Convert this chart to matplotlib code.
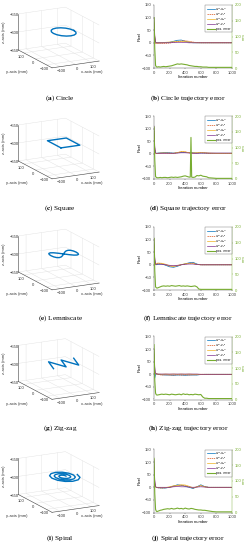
import numpy as np
import matplotlib
matplotlib.use("Agg")
import matplotlib.pyplot as plt

plt.rcParams['font.family'] = ['Liberation Sans', 'DejaVu Sans']
plt.rcParams['mathtext.fontset'] = 'stix'

BLUE = '#0072BD'
ORANGE = '#D95319'
YELLOW = '#EDB120'
PURPLE = '#7E2F8E'
GREEN = '#77AC30'

# --- trajectories (mm), relative to the path centre ---
circle_x = [65, 60, 46, 25, 0, -25, -46, -60, -65, -60, -46, -25, 0, 25, 46, 60, 65]
circle_y = [0, 25, 46, 60, 65, 60, 46, 25, 0, -25, -46, -60, -65, -60, -46, -25, 0]
square_x = [-60, 60, 60, -60, -60]
square_y = [-60, -60, 60, 60, -60]
lemni_x = [0, 20.7, 40, 56.6, 69.3, 77.3, 80, 77.3, 69.3, 56.6, 40, 20.7, 0,
           -20.7, -40, -56.6, -69.3, -77.3, -80, -77.3, -69.3, -56.6, -40, -20.7, 0]
lemni_y = [0, 20, 34.6, 40, 34.6, 20, 0, -20, -34.6, -40, -34.6, -20, 0,
           20, 34.6, 40, 34.6, 20, 0, -20, -34.6, -40, -34.6, -20, 0]
zigzag_x = [-100, -60, -20, 20, 60, 100]
zigzag_y = [-50, 50, -50, 50, -50, 50]
spiral_x = [15, 14.7, 9.5, 0, -11.5, -21.7, -27, -25.1, -15.5, 0, 17.5, 32.0, 39,
            35.5, 21.5, 0, -23.5, -42.4, -51, -45.9, -27.5, 0, 29.5, 52.8, 63,
            56.3, 33.5, 0, -35.5, -63.2, -75, -66.7, -39.5, 0, 41.5, 73.6, 87]
spiral_y = [0, 8.5, 16.5, 21, 19.9, 12.5, 0, -14.5, -26.8, -33, -30.3, -18.5, 0,
            20.5, 37.2, 45, 40.7, 24.5, 0, -26.5, -47.6, -57, -51.1, -30.5, 0,
            32.5, 58.0, 69, 61.5, 36.5, 0, -38.5, -68.4, -81, -71.9, -42.5, 0]
path_centre = (60, 40, -595)

# --- error curves ---
iters_px = [0, 10, 20, 30, 50, 100, 150, 200, 250, 300, 350, 400, 450, 500,
            550, 600, 650, 700, 800, 900, 1000]
iters_pos = [0, 10, 20, 30, 40, 60, 80, 100, 125, 150, 175, 200, 225, 250, 275,
             300, 325, 350, 375, 400, 425, 450, 475, 500, 525, 550, 575, 600,
             625, 650, 675, 700, 750, 800, 850, 900, 950, 1000]
iters_pos_sq = [0, 10, 20, 30, 40, 60, 80, 100, 125, 150, 175, 200, 225, 250, 275,
                300, 325, 350, 375, 400, 425, 450, 465, 474, 483, 500, 525, 550,
                575, 600, 625, 650, 675, 700, 750, 800, 850, 900, 950, 1000]

circle_u1 = [60, 20, 2, 0, 0, 0, 1, 2, 6, 10, 11, 6, 2, 0, 0, 0, 0, 0, 0, 0, 0]
circle_v1 = [40, 10, -2, -3, -3, -3, -2, -1, 2, 5, 7, 8, 6, 3, 1, 0, 0, 0, 0, 0, 0]
circle_u2 = [80, 25, 2, 0, 0, 1, 2, 3, 4, 5, 6, 5, 3, 1, 0, 0, 0, 0, 0, 0, 0]
circle_v2 = [100, 30, 3, 0, 0, 0, 0, 0, 1, 2, 2, 1, 0, 0, 0, 0, 0, 0, 0, 0, 0]
circle_pos = [160, 60, 8, 4, 3, 4, 3, 4, 5, 4, 5, 6, 7, 9, 11, 13, 12, 13, 12, 11,
              10, 8, 7, 6, 5, 5, 4, 4, 3, 3, 3, 2, 2, 2, 2, 2, 2, 2]

square_u1 = [50, 15, 3, 2, 3, 4, 5, 4, 3, 4, 5, 6, 5, 4, 3, 3, 3, 2, 2, 2, 2]
square_v1 = [90, 20, 2, 1, 2, 3, 3, 3, 2, 4, 8, 7, 4, 3, 3, 4, 3, 2, 1, 1, 1]
square_u2 = [70, 15, 2, 1, 2, 3, 3, 2, 2, 5, 9, 8, 4, 3, 4, 5, 4, 3, 2, 2, 2]
square_v2 = [110, 30, 4, 2, 2, 2, 2, 2, 2, 3, 4, 4, 3, 2, 2, 3, 3, 3, 3, 3, 3]
square_pos = [165, 60, 8, 5, 4, 4, 5, 4, 5, 5, 4, 5, 6, 5, 6, 5, 6, 7, 9, 10,
              8, 6, 6, 132, 6, 5, 6, 11, 10, 12, 9, 8, 7, 4, 3, 2, 2, 2, 2, 2]

lemni_u1 = [60, 15, 2, 0, 2, 3, -2, -8, -10, -6, 0, 4, 8, 10, 3, 0, 0, 0, 0, 0, 0]
lemni_v1 = [50, 10, 0, 3, 5, 4, 0, -5, -6, -4, 0, 3, 6, 7, 2, 0, 0, 0, 0, 0, 0]
lemni_u2 = [80, 20, 2, 5, 7, 6, 2, -4, -6, -3, 1, 4, 5, 5, 1, 0, 0, 0, 0, 0, 0]
lemni_v2 = [105, 30, 3, 2, 3, 2, 0, -2, -3, -2, 0, 2, 3, 3, 1, 0, 0, 0, 0, 0, 0]
lemni_pos = [164, 60, 10, 7, 6, 8, 10, 12, 13, 12, 13, 12, 14, 13, 12, 13, 14, 12,
             13, 12, 13, 12, 11, 12, 13, 10, 3, 2, 2, 2, 2, 2, 2, 2, 2, 2, 2, 2]

zigzag_u1 = [60, -15, 0, 2, 0, -2, -3, -3, -4, -3, -3, -4, -3, -3, -3, -1, 0, 0, 0, 0, 0]
zigzag_v1 = [40, 5, 2, 1, -1, -3, -2, -3, -3, -2, -3, -2, -3, -2, -2, 0, 0, 0, 0, 0, 0]
zigzag_u2 = [80, 10, 3, 2, 1, 0, 1, 0, 1, 0, 1, 0, 1, 0, 0, 0, 0, 0, 0, 0, 0]
zigzag_v2 = [100, 30, 4, 2, 1, 1, 1, 1, 1, 1, 1, 1, 1, 1, 1, 0, 0, 0, 0, 0, 0]
zigzag_pos = [174, 60, 20, 15, 14, 15, 16, 17, 16, 17, 16, 15, 17, 16, 15, 16, 17,
              15, 18, 16, 17, 15, 16, 15, 17, 16, 15, 16, 8, 4, 4, 3, 3, 3, 3, 3, 3, 3]

spiral_u1 = [60, 15, 2, 0, -2, -3, -3, 0, 5, 10, 8, 4, 0, -5, 2, 10, 3, 0, 0, 0, 0]
spiral_v1 = [40, 10, 0, -1, -2, -3, -2, 0, 3, 6, 8, 6, 2, -3, 1, 6, 2, 0, 0, 0, 0]
spiral_u2 = [80, 20, 2, 0, -1, -2, -1, 2, 6, 8, 10, 9, 4, -2, 2, 7, 2, 0, 0, 0, 0]
spiral_v2 = [110, 30, 3, 0, 0, 0, 0, 0, 2, 3, 2, 2, 1, 0, 1, 2, 1, 0, 0, 0, 0]
spiral_pos = [172, 60, 10, 4, 3, 5, 7, 8, 10, 11, 12, 11, 13, 11, 12, 14, 12, 13,
              11, 14, 12, 11, 13, 12, 10, 9, 8, 8, 7, 7, 6, 5, 3, 2, 2, 2, 2, 2]

letters = ['a', 'b', 'c', 'd', 'e', 'f', 'g', 'h', 'i', 'j']
names = ['Circle', 'Square', 'Lemniscate', 'Zig-zag', 'Spiral']
legend_labels = ['u\u2081\u1d50-u\u2081\u1d48', 'v\u2081\u1d50-v\u2081\u1d48',
                 'u\u2082\u1d50-u\u2082\u1d48', 'v\u2082\u1d50-v\u2082\u1d48', 'pos. error']

rows = [
    (circle_x, circle_y, circle_u1, circle_v1, circle_u2, circle_v2, iters_pos, circle_pos),
    (square_x, square_y, square_u1, square_v1, square_u2, square_v2, iters_pos_sq, square_pos),
    (lemni_x, lemni_y, lemni_u1, lemni_v1, lemni_u2, lemni_v2, iters_pos, lemni_pos),
    (zigzag_x, zigzag_y, zigzag_u1, zigzag_v1, zigzag_u2, zigzag_v2, iters_pos, zigzag_pos),
    (spiral_x, spiral_y, spiral_u1, spiral_v1, spiral_u2, spiral_v2, iters_pos, spiral_pos),
]

W, H = 249, 550
fig = plt.figure(figsize=(W / 100, H / 100), dpi=100)

XL, YL, ZL = (-150, 150), (-150, 150), (-650, -550)
# where the 3D box corners sit in each row (px, top-left origin):
# front-bottom, right-bottom, left-bottom, left-top
box_target = np.array([[51.7, 67.7], [99.3, 61.0], [18.3, 50.0], [18.3, 14.0]])
corner_x = [XL[0], XL[1], XL[0], XL[0]]
corner_y = [YL[0], YL[0], YL[1], YL[1]]
corner_z = [ZL[0], ZL[0], ZL[0], ZL[1]]
row_shift = [0, 1, 2, 1.5, 4.5]


def box(x0, y0, w, h):
    # pixel box (top-left origin) -> figure fraction
    return [x0 / W, 1 - (y0 + h) / H, w / W, h / H]


def proj_px(ax, xs, ys, zs):
    M = ax.get_proj()
    v = M @ np.vstack([xs, ys, zs, np.ones(len(xs))])
    p = ax.transData.transform(np.column_stack([v[0] / v[3], v[1] / v[3]]))
    return np.column_stack([p[:, 0], H - p[:, 1]])


SZ = 110
for i, (tx, ty, u1, v1, u2, v2, it_pos, pos) in enumerate(rows):
    off = 110 * i
    sh = row_shift[i]
    tgt = box_target + [0, off + sh]

    # 3D trajectory
    x0, y0 = 5.0, off - 15.0
    ax = fig.add_axes(box(x0, y0, SZ, SZ), projection='3d')
    ax.plot(np.add(tx, path_centre[0]), np.add(ty, path_centre[1]), path_centre[2],
            color=BLUE, lw=1.0)
    ax.set_proj_type('ortho')
    ax.view_init(elev=16, azim=-117.5)
    ax.set_xlim(*XL)
    ax.set_ylim(*YL)
    ax.set_zlim(*ZL)
    ax.set_xticks([-100, 0, 100])
    ax.set_yticks([-100, 0, 100])
    ax.set_zticks([-650, -600, -550])
    for axis in (ax.xaxis, ax.yaxis, ax.zaxis):
        axis.set_pane_color((1, 1, 1, 0))
        axis.pane.set_edgecolor('0.85')
        axis.pane.set_linewidth(0.3)
        axis._axinfo['grid'].update(color='0.88', linewidth=0.3)
        axis._axinfo['tick'].update(inward_factor=0.0, outward_factor=0.0)
        axis.line.set_color('0.25')
        axis.line.set_linewidth(0.4)
    ax.tick_params(labelsize=3, pad=-6, colors='0.2')

    # fit the projected box onto the reference box
    zoom, zasp = 1.0, 37.5
    for _ in range(4):
        ax.set_box_aspect((53, 73, zasp), zoom=zoom)
        fig.canvas.draw()
        p = proj_px(ax, corner_x, corner_y, corner_z)
        s = (tgt[1, 0] - tgt[2, 0]) / (p[1, 0] - p[2, 0])
        zoom *= s
        zasp *= (tgt[2, 1] - tgt[3, 1]) / ((p[2, 1] - p[3, 1]) * s)
    ax.set_box_aspect((53, 73, zasp), zoom=zoom)
    fig.canvas.draw()
    p = proj_px(ax, corner_x, corner_y, corner_z)
    d = tgt.mean(axis=0) - p.mean(axis=0)
    ax.set_position(box(x0 + d[0], y0 + d[1], SZ, SZ))

    fig.text(17 / W, 1 - (off + sh + 72) / H, 'y-axis (mm)', fontsize=3, ha='center',
             va='center', color='0.2')
    fig.text(91.5 / W, 1 - (off + sh + 72) / H, 'x-axis (mm)', fontsize=3, ha='center',
             va='center', color='0.2')
    fig.text(4.5 / W, 1 - (off + sh + 32) / H, 'z-axis (mm)', fontsize=3, ha='center',
             va='center', rotation=90, color='0.2')

    fig.text(60 / W, 1 - (off + 98) / H, r'($\mathbf{%s}$) %s' % (letters[2 * i], names[i]),
             ha='center', va='center', fontsize=5.2, family='Liberation Serif')

    # error curves
    ea = fig.add_axes(box(154, off + sh + 5, 78, 63))
    l1, = ea.plot(iters_px, u1, color=BLUE, lw=0.5)
    l2, = ea.plot(iters_px, v1, color=ORANGE, lw=0.5, ls='--', dashes=(2, 1))
    l3, = ea.plot(iters_px, u2, color=YELLOW, lw=0.5)
    l4, = ea.plot(iters_px, v2, color=PURPLE, lw=0.5)
    ea.set_xlim(0, 1000)
    ea.set_ylim(-100, 150)
    ea.set_xticks([0, 200, 400, 600, 800, 1000])
    ea.set_yticks([-100, -50, 0, 50, 100, 150])
    ea.set_xlabel('Iteration number', fontsize=3, labelpad=0.5)
    ea.set_ylabel('Pixel', fontsize=3, labelpad=0.5)
    ea.tick_params(labelsize=3, length=1, width=0.3, pad=1, colors='0.25')
    for s in ea.spines.values():
        s.set_linewidth(0.3)
        s.set_color('0.25')
    ea.spines['top'].set_visible(False)
    ea.spines['right'].set_visible(False)

    ea2 = ea.twinx()
    l5, = ea2.plot(it_pos, pos, color=GREEN, lw=0.8)
    ea2.set_ylim(0, 200)
    ea2.set_yticks([0, 50, 100, 150, 200])
    ea2.set_ylabel('mm', fontsize=3, color=GREEN, labelpad=0.5)
    ea2.tick_params(labelsize=3, length=1, width=0.3, pad=1, colors=GREEN)
    for k, s in ea2.spines.items():
        s.set_visible(k == 'right')
    ea2.spines['right'].set_color(GREEN)
    ea2.spines['right'].set_linewidth(0.3)

    leg = ea2.legend([l1, l2, l3, l4, l5], legend_labels, loc='upper right',
                     prop={'family': ['DejaVu Sans'], 'size': 2.2},
                     handlelength=2.6, borderpad=0.4, labelspacing=0.35,
                     handletextpad=0.4, borderaxespad=0.15, fancybox=False)
    leg.get_frame().set_linewidth(0.3)
    leg.get_frame().set_edgecolor('0.3')

    fig.text(188 / W, 1 - (off + 98) / H,
             r'($\mathbf{%s}$) %s trajectory error' % (letters[2 * i + 1], names[i]),
             ha='center', va='center', fontsize=5.2, family='Liberation Serif')

fig.savefig('out.png', dpi=100)
